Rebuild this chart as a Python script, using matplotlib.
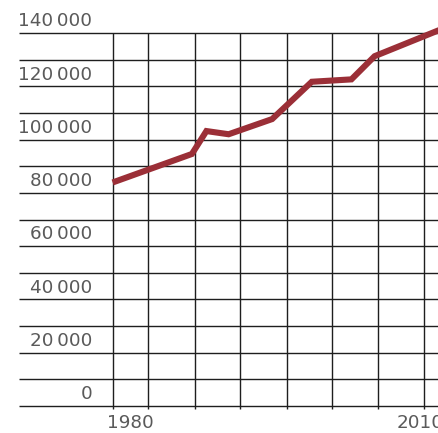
import matplotlib
matplotlib.use("Agg")
import matplotlib.pyplot as plt
import matplotlib.transforms as mtransforms

# data (x in years, y in units)
years = [1978.2, 1986.4, 1987.9, 1990.2, 1994.7, 1998.8, 2002.9, 2005.3, 2013.0]
values = [83900, 94600, 103200, 102000, 107700, 121700, 122600, 131300, 142600]

y_ticks = list(range(0, 140001, 20000))
y_grid = list(range(0, 140001, 10000))
x_grid = [1978.2, 1981.9, 1986.7, 1991.4, 1996.2, 2000.9, 2005.7, 2010.4]
x_labels = [1980, 2010]

LINE_COLOR = "#9b2f37"
GRID_COLOR = "#1e1e1e"
TEXT_COLOR = "#5a5a5a"


def fmt(v):
    if v == 0:
        return "0"
    return f"{v // 1000}\u2009000"


def main():
    fig = plt.figure(figsize=(4.39, 4.33), dpi=100)
    ax = fig.add_axes([0, 0, 1, 1])
    ax.set_xlim(1966.55, 2011.96)
    ax.set_ylim(-10130, 152390)
    ax.axis("off")

    ax.hlines(y_grid, 1968.5, 2013, color=GRID_COLOR, lw=1.0, zorder=1)
    ax.vlines(x_grid, -1100, 140000, color=GRID_COLOR, lw=1.0, zorder=1)

    ax.plot(years, values, color=LINE_COLOR, lw=4.4, zorder=3,
            solid_joinstyle="miter", solid_capstyle="butt")

    trans = mtransforms.blended_transform_factory(ax.transAxes, ax.transData)
    for v in y_ticks:
        ax.text(0.2096, v + 2500, fmt(v), transform=trans, ha="right",
                va="baseline", fontsize=13.2, color=TEXT_COLOR,
                family="DejaVu Sans")

    for yr in x_labels:
        ax.text(yr, -8400, str(yr), ha="center", va="baseline",
                fontsize=13.2, color=TEXT_COLOR, family="DejaVu Sans")

    fig.savefig("out.png", dpi=100)
    plt.close(fig)


if __name__ == "__main__":
    main()
